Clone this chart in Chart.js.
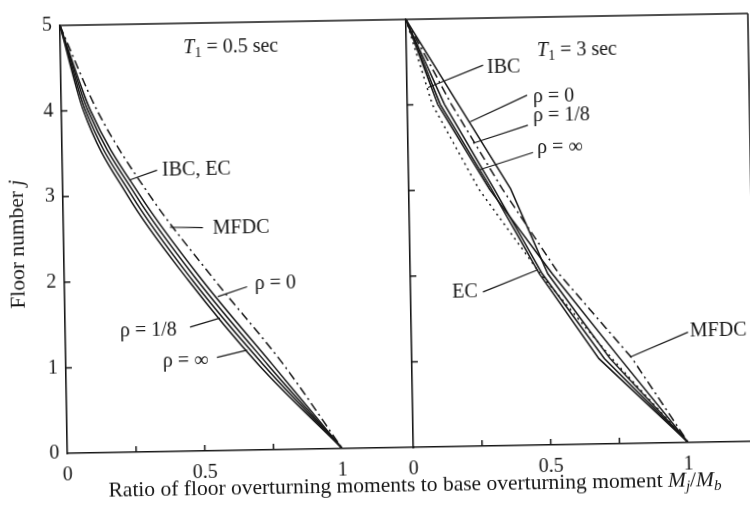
<!DOCTYPE html>
<html>
<head>
<meta charset="utf-8">
<script src="https://cdn.jsdelivr.net/npm/chart.js@4.4.0/dist/chart.umd.min.js"></script>
<style>
  html, body { margin: 0; background: #fff; overflow: hidden; width: 750px; height: 514px; }
  #wrap { position: absolute; left: 0; top: 0; width: 760px; height: 514px;
          transform: rotate(-1deg); transform-origin: 375px 257px; }
  #wrap canvas { position: absolute; left: 0; top: 0; }
</style>
</head>
<body>
<div id="wrap">
  <canvas id="left" width="760" height="514"></canvas>
  <canvas id="right" width="760" height="514"></canvas>
</div>
<script>
const floors = [0, 1, 2, 3, 4, 5];
const xTickValues = [0, 0.5, 1];
const xMinorTicks = [0.25, 0.5, 0.75];
const yTickValues = [0, 1, 2, 3, 4, 5];
const yInnerTicks = [1, 2, 3, 4];

// T1 = 0.5 sec, moment ratio Mj/Mb at floors 0..5
const shortIbcEc = [1, 0.733, 0.482, 0.265, 0.097, 0];
const shortMfdc = [1, 0.79, 0.545, 0.315, 0.13, 0];
const shortRho0 = [1, 0.75, 0.50, 0.28, 0.106, 0];
const shortRho8 = [1, 0.717, 0.465, 0.25, 0.088, 0];
const shortRhoInf = [1, 0.70, 0.45, 0.235, 0.08, 0];

// T1 = 3 sec
const longIbc = [1, 0.756, 0.516, 0.293, 0.111, 0];
const longEc = [1, 0.727, 0.473, 0.255, 0.091, 0];
const longMfdc = [1, 0.80, 0.54, 0.34, 0.16, 0];
const longRho0 = [1, 0.72, 0.50, 0.37, 0.185, 0];
const longRho8 = [1, 0.70, 0.48, 0.31, 0.135, 0];
const longRhoInf = [1, 0.68, 0.47, 0.30, 0.12, 0];

const INK = '#161616';
const SERIF = '"Liberation Serif", "DejaVu Serif", serif';
const FS = 20;
const PX_PER_UNIT = 275;

function series(xs, dash, smooth) {
  // points ordered by increasing ratio so the monotone spline runs along x
  const pts = floors.map((f, i) => ({ x: xs[i], y: f })).sort((a, b) => a.x - b.x);
  return {
    data: pts,
    showLine: true, borderColor: INK, borderWidth: 1.5, borderDash: dash || [],
    pointRadius: 0, fill: false,
    cubicInterpolationMode: smooth ? 'monotone' : 'default', tension: 0
  };
}

function drawRich(ctx, parts, x, y, align, size) {
  let w = 0;
  const segs = parts.map(p => {
    const fs = p.sub ? size * 0.7 : size;
    const font = (p.italic ? 'italic ' : '') + fs + 'px ' + SERIF;
    ctx.font = font;
    const pw = ctx.measureText(p.t).width;
    w += pw;
    return { p, font, pw };
  });
  let cx = align === 'center' ? x - w / 2 : x;
  ctx.textAlign = 'left';
  ctx.textBaseline = 'middle';
  segs.forEach(s => {
    ctx.font = s.font;
    ctx.fillText(s.p.t, cx, y + (s.p.sub ? size * 0.3 : 0));
    cx += s.pw;
  });
}

const deco = {
  id: 'deco',
  afterDraw(chart, args, opts) {
    const { ctx, chartArea: a } = chart;
    const sx = chart.scales.x, sy = chart.scales.y;
    ctx.save();
    ctx.strokeStyle = INK;
    ctx.fillStyle = INK;
    ctx.lineWidth = 1.5;
    ctx.beginPath();
    ctx.moveTo(a.left, a.top); ctx.lineTo(a.right, a.top);
    if (opts.rightBorder) { ctx.moveTo(a.right, a.top); ctx.lineTo(a.right, a.bottom); }
    yInnerTicks.forEach(v => {
      const py = sy.getPixelForValue(v);
      ctx.moveTo(a.left, py); ctx.lineTo(a.left + 6, py);
    });
    xMinorTicks.forEach(v => {
      const px = sx.getPixelForValue(v);
      ctx.moveTo(px, a.bottom); ctx.lineTo(px, a.bottom - 6);
    });
    ctx.stroke();

    ctx.lineWidth = 1.2;
    opts.notes.forEach(n => {
      if (n.from) {
        ctx.beginPath();
        ctx.moveTo(sx.getPixelForValue(n.from[0]), sy.getPixelForValue(n.from[1]));
        ctx.lineTo(sx.getPixelForValue(n.to[0]), sy.getPixelForValue(n.to[1]));
        ctx.stroke();
      }
      drawRich(ctx, n.parts, sx.getPixelForValue(n.x), sy.getPixelForValue(n.y), n.align || 'left', FS);
    });

    if (opts.titles) {
      drawRich(ctx, [
        { t: 'Ratio of floor overturning moments to base overturning moment ' },
        { t: 'M', italic: true }, { t: 'j', italic: true, sub: true },
        { t: '/' },
        { t: 'M', italic: true }, { t: 'b', italic: true, sub: true }
      ], 411, 486, 'center', 21.5);
      ctx.translate(18, 238);
      ctx.rotate(-Math.PI / 2);
      drawRich(ctx, [{ t: 'Floor number ' }, { t: 'j', italic: true }], 0, 0, 'center', 21.5);
    }
    ctx.restore();
  }
};

function panel(id, datasets, opts) {
  const left = opts.left, right = opts.right;
  return new Chart(document.getElementById(id), {
    type: 'scatter',
    data: { datasets },
    plugins: [deco],
    options: {
      responsive: false,
      animation: false,
      layout: { padding: { left: 0, right: 760 - right, top: 20, bottom: 0 } },
      plugins: {
        legend: { display: false },
        tooltip: { enabled: false },
        deco: { notes: opts.notes, titles: opts.titles, rightBorder: opts.rightBorder }
      },
      scales: {
        x: {
          type: 'linear', min: 0, max: (right - left) / PX_PER_UNIT,
          afterBuildTicks: s => { s.ticks = xTickValues.map(v => ({ value: v })); },
          afterFit: s => { s.height = 514 - 448; },
          grid: { display: false, drawTicks: false },
          border: { display: true, color: INK, width: 1.6 },
          ticks: { color: INK, padding: 10, font: { family: SERIF, size: FS }, maxRotation: 0,
                   callback: v => String(v) }
        },
        y: {
          type: 'linear', min: 0, max: 5,
          afterBuildTicks: s => { s.ticks = yTickValues.map(v => ({ value: v })); },
          afterFit: s => { s.width = left; },
          grid: { display: false, drawTicks: false },
          border: { display: true, color: INK, width: 1.6 },
          ticks: { display: opts.yLabels, color: INK, padding: 8, font: { family: SERIF, size: FS },
                   callback: v => String(v) }
        }
      }
    }
  });
}

const DASHDOT = [9, 4, 2, 4];
const DOTTED = [2, 4];

panel('left', [
  series(shortRhoInf, null, true), series(shortRho8, null, true), series(shortIbcEc, null, true),
  series(shortRho0, null, true), series(shortMfdc, DASHDOT, true)
], {
  left: 64, right: 410, yLabels: true, titles: true,
  notes: [
    { parts: [{ t: 'T', italic: true }, { t: '1', sub: true }, { t: ' = 0.5 sec' }], x: 0.62, y: 4.71, align: 'center' },
    { parts: [{ t: 'IBC, EC' }], x: 0.362, y: 3.28, from: [0.344, 3.29], to: [0.244, 3.18] },
    { parts: [{ t: 'MFDC' }], x: 0.543, y: 2.60, from: [0.507, 2.61], to: [0.387, 2.62] },
    { parts: [{ t: 'ρ = 0' }], x: 0.692, y: 1.94, from: [0.664, 1.91], to: [0.557, 1.80] },
    { parts: [{ t: 'ρ = 1/8' }], x: 0.199, y: 1.42, from: [0.454, 1.45], to: [0.563, 1.55] },
    { parts: [{ t: 'ρ = ∞' }], x: 0.353, y: 1.06, from: [0.55, 1.09], to: [0.66, 1.17] }
  ]
});

panel('right', [
  series(longRhoInf), series(longRho8), series(longRho0), series(longIbc),
  series(longEc, DOTTED), series(longMfdc, DASHDOT)
], {
  left: 410, right: 752, yLabels: false, titles: false, rightBorder: true,
  notes: [
    { parts: [{ t: 'T', italic: true }, { t: '1', sub: true }, { t: ' = 3 sec' }], x: 0.62, y: 4.61, align: 'center' },
    { parts: [{ t: 'IBC' }], x: 0.292, y: 4.42, from: [0.278, 4.45], to: [0.076, 4.20] },
    { parts: [{ t: 'ρ = 0' }], x: 0.457, y: 4.07, from: [0.436, 4.09], to: [0.227, 3.79] },
    { parts: [{ t: 'ρ = 1/8' }], x: 0.456, y: 3.85, from: [0.437, 3.74], to: [0.236, 3.54] },
    { parts: [{ t: 'ρ = ∞' }], x: 0.469, y: 3.47, from: [0.454, 3.42], to: [0.26, 3.23] },
    { parts: [{ t: 'EC' }], x: 0.151, y: 1.80, from: [0.263, 1.80], to: [0.465, 2.05] },
    { parts: [{ t: 'MFDC' }], x: 1.013, y: 1.30, from: [1.006, 1.29], to: [0.794, 1.01] }
  ]
});
</script>
</body>
</html>
